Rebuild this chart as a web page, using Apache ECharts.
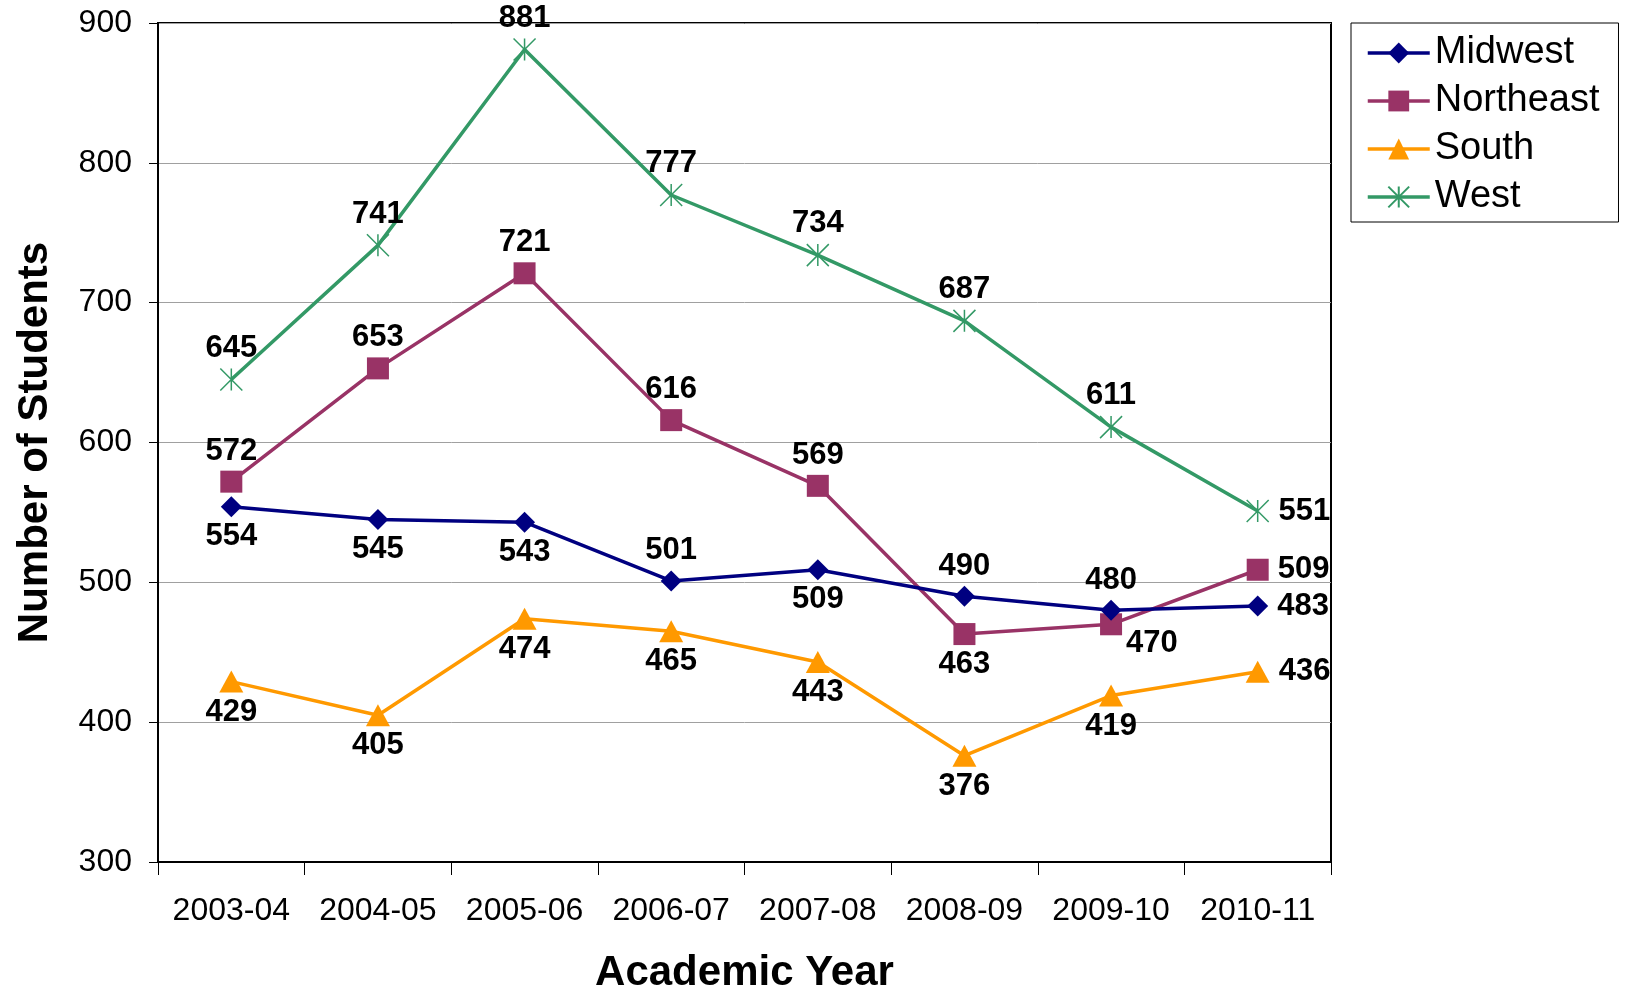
<!DOCTYPE html>
<html>
<head>
<meta charset="utf-8">
<title>Number of Students by Region</title>
<script src="https://cdn.jsdelivr.net/npm/echarts@6/dist/echarts.min.js"></script>
<style>
  html, body { margin: 0; padding: 0; background: #fff; }
  #chart { width: 1628px; height: 993px; }
</style>
</head>
<body>
<div id="chart"></div>
<script>
const years = ["2003-04", "2004-05", "2005-06", "2006-07", "2007-08", "2008-09", "2009-10", "2010-11"];
const midwest = [554, 545, 543, 501, 509, 490, 480, 483];
const northeast = [572, 653, 721, 616, 569, 463, 470, 509];
const south = [429, 405, 474, 465, 443, 376, 419, 436];
const west = [645, 741, 881, 777, 734, 687, 611, 551];
const yTicks = [300, 400, 500, 600, 700, 800, 900];

// where each value label sits relative to its marker
const midwestLabelPos = ["bottom", "bottom", "bottom", "top", "bottom", "top", "top", "right"];
const northeastLabelPos = ["top", "top", "top", "top", "top", "bottom", "rightLow", "right"];
const southLabelPos = ["bottom", "bottom", "bottom", "bottom", "bottom", "bottom", "bottom", "right"];
const westLabelPos = ["top", "top", "top", "top", "top", "top", "top", "right"];

const FONT = "'Liberation Sans', Arial, sans-serif";

function labelFor(pos) {
  const base = {
    show: true,
    color: "#000",
    fontFamily: FONT,
    fontWeight: "bold",
    fontSize: 31,
    distance: 4,
  };
  if (pos === "rightLow") return { ...base, position: "right", offset: [0, 19] };
  if (pos === "right") return { ...base, position: "right", distance: 9 };
  return { ...base, position: pos };
}

function withLabels(values, positions) {
  return values.map((v, i) => ({ value: v, label: labelFor(positions[i]) }));
}

const chart = echarts.init(document.getElementById("chart"));

const option = {
  animation: false,
  backgroundColor: "#fff",
  grid: {
    left: 158,
    right: 297,
    top: 23,
    bottom: 131,
    outerBoundsMode: "none",
    show: true,
    borderColor: "#000",
    borderWidth: 2,
  },
  legend: {
    orient: "vertical",
    left: 1351,
    top: 23,
    padding: [10, 19, 5, 15],
    itemWidth: 62,
    itemHeight: 26,
    itemGap: 8,
    borderColor: "#000",
    borderWidth: 1,
    lineStyle: { width: 3.5 },
    textStyle: { color: "#000", fontFamily: FONT, fontSize: 38, lineHeight: 40 },
    data: ["Midwest", "Northeast", "South", "West"],
  },
  xAxis: {
    type: "category",
    data: years,
    boundaryGap: true,
    name: "Academic Year",
    nameLocation: "middle",
    nameGap: 90,
    nameTextStyle: { color: "#000", fontFamily: FONT, fontWeight: "bold", fontSize: 42 },
    axisLine: { lineStyle: { color: "#000", width: 2 } },
    axisTick: { show: true, interval: 0, alignWithLabel: false, length: 13, lineStyle: { color: "#000", width: 1 } },
    axisLabel: { color: "#000", fontFamily: FONT, fontSize: 32, margin: 33, interval: 0 },
    splitLine: { show: false },
  },
  yAxis: {
    type: "value",
    min: yTicks[0],
    max: yTicks[yTicks.length - 1],
    interval: 100,
    name: "Number of Students",
    nameLocation: "middle",
    nameGap: 102,
    nameTextStyle: { color: "#000", fontFamily: FONT, fontWeight: "bold", fontSize: 42 },
    axisLine: { show: true, lineStyle: { color: "#000", width: 2 } },
    axisTick: { show: true, length: 9, lineStyle: { color: "#000", width: 1 } },
    axisLabel: { color: "#000", fontFamily: FONT, fontSize: 32, margin: 26 },
    splitLine: { show: true, lineStyle: { color: "#a0a0a0", width: 1 } },
  },
  series: [
    {
      name: "Midwest",
      type: "line",
      data: withLabels(midwest, midwestLabelPos),
      symbol: "diamond",
      symbolSize: [21, 21],
      itemStyle: { color: "#000080" },
      lineStyle: { color: "#000080", width: 3.5 },
      z: 4,
    },
    {
      name: "Northeast",
      type: "line",
      data: withLabels(northeast, northeastLabelPos),
      symbol: "rect",
      symbolSize: [22, 22],
      itemStyle: { color: "#993366" },
      lineStyle: { color: "#993366", width: 3.5 },
      z: 3,
    },
    {
      name: "South",
      type: "line",
      data: withLabels(south, southLabelPos),
      symbol: "triangle",
      symbolSize: [24, 22],
      itemStyle: { color: "#FF9900" },
      lineStyle: { color: "#FF9900", width: 3.5 },
      z: 2,
    },
    {
      name: "West",
      type: "line",
      data: withLabels(west, westLabelPos),
      symbol: "path://M0,0L10,10M10,0L0,10M5,0L5,10",
      symbolSize: [22, 22],
      itemStyle: { color: "rgba(0,0,0,0)", borderColor: "#339966", borderWidth: 1.5 },
      lineStyle: { color: "#339966", width: 3.5 },
      z: 1,
    },
  ],
};

chart.setOption(option);
</script>
</body>
</html>
